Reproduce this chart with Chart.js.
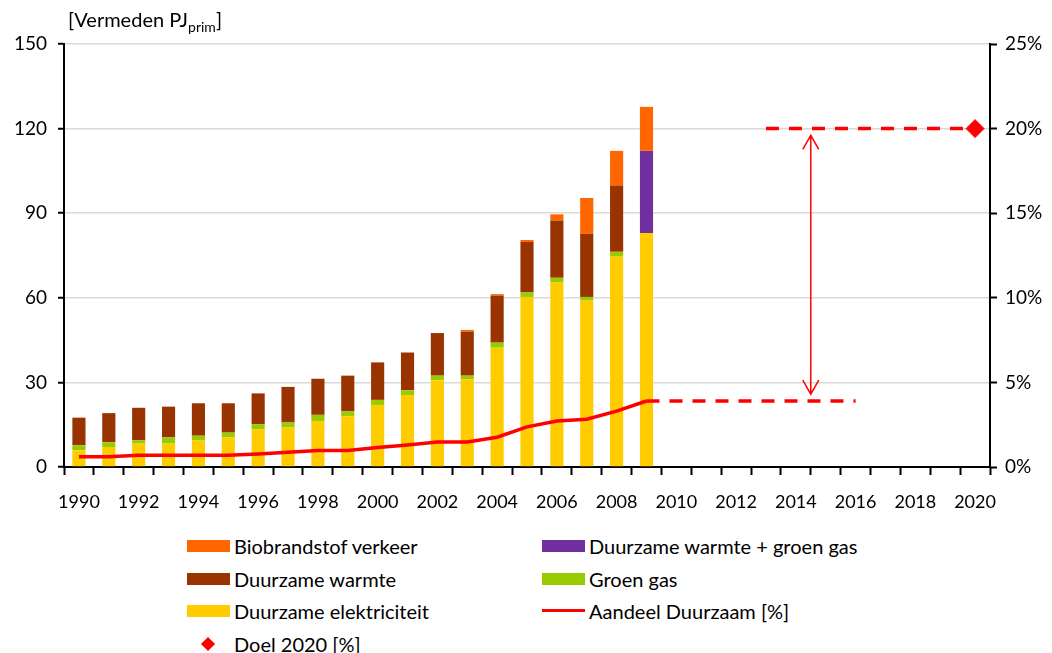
<!DOCTYPE html>
<html>
<head>
<meta charset="utf-8">
<script src="https://cdn.jsdelivr.net/npm/chart.js@4"></script>
<style>
  html, body { margin: 0; padding: 0; background: #fff; }
  body { width: 1052px; height: 653px; position: relative; overflow: hidden; font-family: "Lato", sans-serif; color: #000; }
  #wrap { position: absolute; left: 0; top: 0; width: 1052px; height: 520px; }
  #axis-title { position: absolute; left: 68px; top: 7px; font-size: 20px; white-space: nowrap; }
  #axis-title sub { font-size: 14px; vertical-align: -5px; line-height: 0; }
  .leg { position: absolute; font-size: 20px; white-space: nowrap; line-height: 22px; }
  .leg .sw { position: absolute; left: -47px; top: 5px; width: 43px; height: 12px; }
  .leg .ln { position: absolute; left: -47px; top: 9px; width: 43px; height: 3px; }
  .leg .dm { position: absolute; left: -31px; top: 6px; width: 10px; height: 10px; transform: rotate(45deg); }
</style>
</head>
<body>
<div id="wrap"><canvas id="chart"></canvas></div>
<div id="axis-title">[Vermeden PJ<sub>prim</sub>]</div>
<div id="legend"></div>
<script>
const years = [
  "1990", "1991", "1992", "1993", "1994", "1995", "1996", "1997", "1998", "1999",
  "2000", "2001", "2002", "2003", "2004", "2005", "2006", "2007", "2008", "2009",
  "2010", "2011", "2012", "2013", "2014", "2015", "2016", "2017", "2018", "2019", "2020"
];

// PJ vermeden primair, 1990-2009
const duurzameElektriciteit = [5.9, 7.1, 8.3, 8.3, 9.4, 10.5, 13.4, 14.0, 16.3, 18.0, 22.0, 25.5, 30.8, 31.1, 42.3, 60.3, 65.4, 59.0, 74.6, 83.0];
const groenGas = [1.8, 1.7, 1.2, 2.2, 1.7, 1.7, 1.8, 1.8, 2.2, 1.7, 1.8, 1.7, 1.6, 1.3, 1.8, 1.6, 1.7, 1.3, 1.7, null];
const duurzameWarmte = [9.8, 10.3, 11.5, 10.9, 11.5, 10.4, 10.9, 12.6, 12.8, 12.7, 13.3, 13.4, 15.1, 15.6, 16.7, 17.9, 20.3, 22.4, 23.5, null];
const warmteGroenGas = [null, null, null, null, null, null, null, null, null, null, null, null, null, null, null, null, null, null, null, 29.1];
const biobrandstof = [0, 0, 0, 0, 0, 0, 0, 0, 0, 0, 0, 0, 0, 0.6, 0.5, 0.7, 2.2, 12.7, 12.3, 15.6];

// aandeel duurzaam in %
const aandeelDuurzaam = [0.6, 0.6, 0.7, 0.7, 0.7, 0.7, 0.77, 0.87, 0.97, 0.97, 1.15, 1.3, 1.48, 1.48, 1.76, 2.37, 2.72, 2.82, 3.3, 3.9];
const aandeelDoorgetrokken = [null, null, null, null, null, null, null, null, null, null, null, null, null, null, null, null, null, null, null, 3.9, 3.9, 3.9, 3.9, 3.9, 3.9, 3.9, 3.9];
const doelLijn = [null, null, null, null, null, null, null, null, null, null, null, null, null, null, null, null, null, null, null, null, null, null, null, 20, 20, 20, 20, 20, 20, 20, 20];
const doel2020 = [null, null, null, null, null, null, null, null, null, null, null, null, null, null, null, null, null, null, null, null, null, null, null, null, null, null, null, null, null, null, 20];

// gap arrow between current share and target
const gapArrow = { year: 2014.5, fromPct: 4.3, toPct: 19.6 };

const leftTicks = [0, 30, 60, 90, 120, 150];
const rightTicks = [0, 5, 10, 15, 20, 25];

const colors = {
  elek: "#ffcc00",
  gas: "#99cc00",
  warmte: "#993300",
  warmteGas: "#7030a0",
  bio: "#ff6600",
  red: "#ff0000"
};

const FONT = "Lato";

const bar = (label, data, color) => ({
  type: "bar",
  label,
  data,
  backgroundColor: color,
  borderWidth: 0,
  barPercentage: 0.44,
  categoryPercentage: 1,
  yAxisID: "y",
  stack: "pj",
  order: 2
});

const arrowPlugin = {
  id: "gapArrow",
  afterDatasetsDraw(chart) {
    const ctx = chart.ctx;
    const x = chart.scales.x.getPixelForValue(gapArrow.year - 1990);
    const y1 = chart.scales.y1.getPixelForValue(gapArrow.fromPct);
    const y2 = chart.scales.y1.getPixelForValue(gapArrow.toPct);
    ctx.save();
    ctx.strokeStyle = colors.red;
    ctx.lineWidth = 1.5;
    ctx.beginPath();
    ctx.moveTo(x, y1);
    ctx.lineTo(x, y2);
    ctx.moveTo(x - 8, y2 + 14);
    ctx.lineTo(x, y2);
    ctx.lineTo(x + 8, y2 + 14);
    ctx.moveTo(x - 8, y1 - 14);
    ctx.lineTo(x, y1);
    ctx.lineTo(x + 8, y1 - 14);
    ctx.stroke();
    ctx.restore();
  }
};

const chart = new Chart(document.getElementById("chart"), {
  data: {
    labels: years,
    datasets: [
      bar("Duurzame elektriciteit", duurzameElektriciteit, colors.elek),
      bar("Groen gas", groenGas, colors.gas),
      bar("Duurzame warmte", duurzameWarmte, colors.warmte),
      bar("Duurzame warmte + groen gas", warmteGroenGas, colors.warmteGas),
      bar("Biobrandstof verkeer", biobrandstof, colors.bio),
      {
        type: "line",
        label: "Aandeel Duurzaam [%]",
        data: aandeelDuurzaam,
        borderColor: colors.red,
        borderWidth: 3.5,
        pointRadius: 0,
        tension: 0,
        yAxisID: "y1",
        order: 0
      },
      {
        type: "line",
        label: "_aandeelDoor",
        data: aandeelDoorgetrokken,
        borderColor: colors.red,
        borderWidth: 3.5,
        borderDash: [13, 10],
        pointRadius: 0,
        yAxisID: "y1",
        order: 0
      },
      {
        type: "line",
        label: "_doelLijn",
        data: doelLijn,
        borderColor: colors.red,
        borderWidth: 3.5,
        borderDash: [13, 10],
        pointRadius: 0,
        yAxisID: "y1",
        order: 0
      },
      {
        type: "line",
        label: "Doel 2020 [%]",
        data: doel2020,
        showLine: false,
        pointStyle: "rectRot",
        pointRadius: 9,
        backgroundColor: colors.red,
        borderColor: colors.red,
        yAxisID: "y1",
        order: 0
      }
    ]
  },
  options: {
    responsive: false,
    animation: false,
    maintainAspectRatio: false,
    layout: { padding: { top: 44, left: 0, right: 0, bottom: 0 } },
    plugins: {
      legend: { display: false },
      tooltip: { enabled: false }
    },
    scales: {
      x: {
        stacked: true,
        offset: true,
        afterFit: (s) => { s.height = 53; },
        grid: { offset: true, drawOnChartArea: false, tickLength: 8, tickColor: "#000", tickWidth: 2 },
        border: { color: "#000", width: 2 },
        ticks: {
          autoSkip: false,
          maxRotation: 0,
          padding: 16,
          color: "#000",
          font: { family: FONT, size: 18 },
          callback: (v, i) => (i % 2 === 0 ? years[i] : "")
        }
      },
      y: {
        position: "left",
        stacked: true,
        min: 0,
        max: 150,
        afterFit: (s) => { s.width = 64; },
        afterBuildTicks: (s) => { s.ticks = leftTicks.map((v) => ({ value: v })); },
        grid: { color: "#d9d9d9", lineWidth: 1.5, tickColor: "#000", tickLength: 6, tickWidth: 2 },
        border: { color: "#000", width: 2 },
        ticks: { padding: 11, color: "#000", font: { family: FONT, size: 19 } }
      },
      y1: {
        position: "right",
        min: 0,
        max: 25,
        afterFit: (s) => { s.width = 62; },
        afterBuildTicks: (s) => { s.ticks = rightTicks.map((v) => ({ value: v })); },
        grid: { drawOnChartArea: false, tickColor: "#000", tickLength: 7, tickWidth: 2 },
        border: { color: "#000", width: 2 },
        ticks: { padding: 8, color: "#000", font: { family: FONT, size: 19 }, callback: (v) => v + "%" }
      }
    }
  },
  plugins: [arrowPlugin]
});

chart.canvas.style.width = "1052px";
chart.canvas.style.height = "520px";
chart.resize(1052, 520);

// legend, two columns like the original
const legendRows = [
  ["Biobrandstof verkeer", "Duurzame warmte + groen gas"],
  ["Duurzame warmte", "Groen gas"],
  ["Duurzame elektriciteit", "Aandeel Duurzaam [%]"],
  ["Doel 2020 [%]", null]
];
const legendEl = document.getElementById("legend");
legendRows.forEach((row, r) => {
  row.forEach((label, c) => {
    if (!label) return;
    const ds = chart.data.datasets.find((d) => d.label === label);
    const div = document.createElement("div");
    div.className = "leg";
    div.style.left = (c === 0 ? 234 : 589) + "px";
    div.style.top = (535 + r * 32.5) + "px";
    let mark;
    if (ds.type === "bar") {
      mark = `<span class="sw" style="background:${ds.backgroundColor}"></span>`;
    } else if (ds.showLine === false) {
      mark = `<span class="dm" style="background:${ds.backgroundColor}"></span>`;
    } else {
      mark = `<span class="ln" style="background:${ds.borderColor}"></span>`;
    }
    div.innerHTML = mark + label;
    legendEl.appendChild(div);
  });
});
</script>
</body>
</html>
